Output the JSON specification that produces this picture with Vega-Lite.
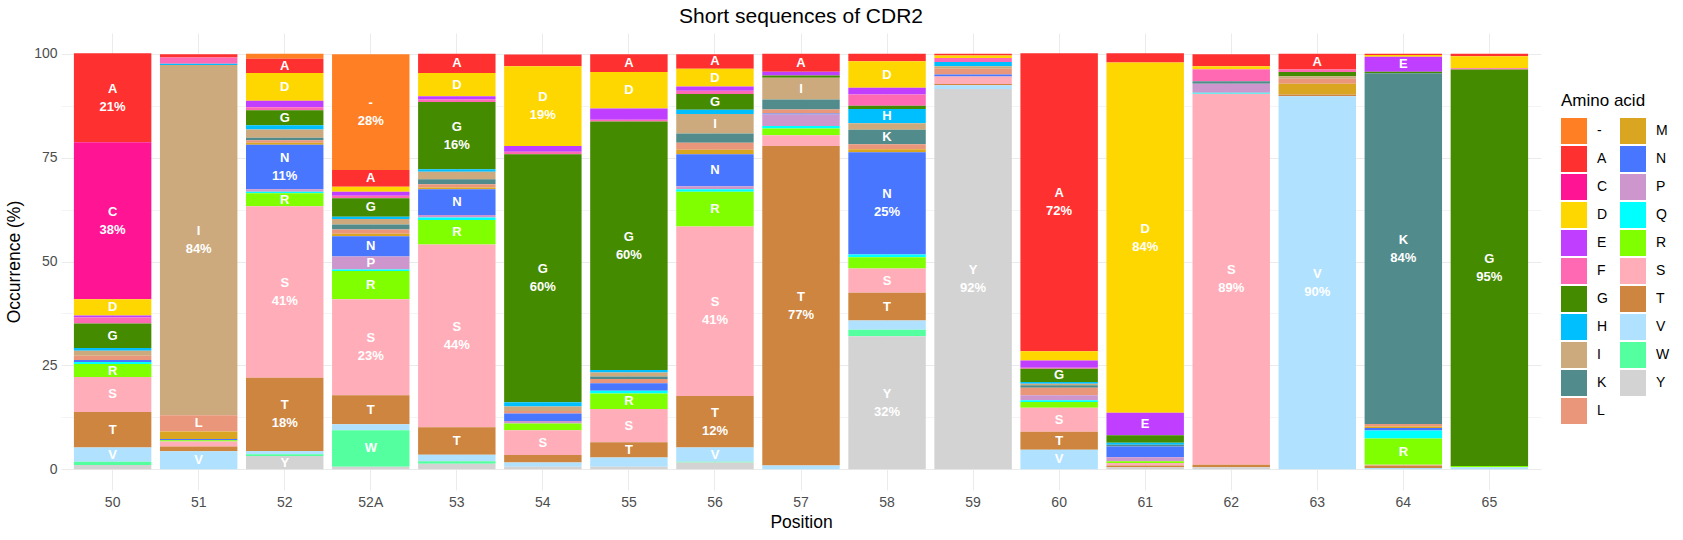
{
 "$schema": "https://vega.github.io/schema/vega-lite/v6.json",
 "width": 1480, "height": 457,
 "autosize": {"type": "none"},
 "padding": {"left": 61, "top": 33, "right": 142, "bottom": 50},
 "background": "white",
 "title": {"text": "Short sequences of CDR2", "fontSize": 21, "font": "Liberation Sans", "fontWeight": "normal", "color": "black", "anchor": "middle", "offset": 6},
 "config": {"view": {"stroke": null}, "font": "Liberation Sans"},
 "data": {"values": [
  {"position":"50","aa":"A","pct":21.4},{"position":"50","aa":"C","pct":37.8},{"position":"50","aa":"D","pct":3.9},{"position":"50","aa":"E","pct":0.5},{"position":"50","aa":"F","pct":1.4},{"position":"50","aa":"G","pct":5.9},{"position":"50","aa":"H","pct":0.7},{"position":"50","aa":"I","pct":1.2},{"position":"50","aa":"L","pct":1.0},{"position":"50","aa":"N","pct":0.5},{"position":"50","aa":"Q","pct":0.5},{"position":"50","aa":"R","pct":3.1},{"position":"50","aa":"S","pct":8.4},{"position":"50","aa":"T","pct":8.6},{"position":"50","aa":"V","pct":3.4},{"position":"50","aa":"W","pct":0.8},{"position":"50","aa":"Y","pct":1.0},
  {"position":"51","aa":"A","pct":0.8},{"position":"51","aa":"F","pct":1.5},{"position":"51","aa":"H","pct":0.3},{"position":"51","aa":"I","pct":84.3},{"position":"51","aa":"L","pct":3.9},{"position":"51","aa":"M","pct":1.8},{"position":"51","aa":"N","pct":0.3},{"position":"51","aa":"R","pct":0.3},{"position":"51","aa":"S","pct":1.2},{"position":"51","aa":"T","pct":1.2},{"position":"51","aa":"V","pct":4.3},
  {"position":"52","aa":"-","pct":1.2},{"position":"52","aa":"A","pct":3.4},{"position":"52","aa":"D","pct":6.7},{"position":"52","aa":"E","pct":1.6},{"position":"52","aa":"F","pct":0.7},{"position":"52","aa":"G","pct":3.6},{"position":"52","aa":"H","pct":1.0},{"position":"52","aa":"I","pct":2.0},{"position":"52","aa":"K","pct":0.6},{"position":"52","aa":"L","pct":0.6},{"position":"52","aa":"M","pct":0.5},{"position":"52","aa":"N","pct":10.7},{"position":"52","aa":"P","pct":0.6},{"position":"52","aa":"Q","pct":0.4},{"position":"52","aa":"R","pct":3.1},{"position":"52","aa":"S","pct":41.3},{"position":"52","aa":"T","pct":17.6},{"position":"52","aa":"V","pct":0.8},{"position":"52","aa":"W","pct":0.4},{"position":"52","aa":"Y","pct":3.2},
  {"position":"52A","aa":"-","pct":27.9},{"position":"52A","aa":"A","pct":4.0},{"position":"52A","aa":"D","pct":1.2},{"position":"52A","aa":"E","pct":1.0},{"position":"52A","aa":"F","pct":0.6},{"position":"52A","aa":"G","pct":4.4},{"position":"52A","aa":"H","pct":0.6},{"position":"52A","aa":"I","pct":1.3},{"position":"52A","aa":"K","pct":1.2},{"position":"52A","aa":"L","pct":1.0},{"position":"52A","aa":"M","pct":0.6},{"position":"52A","aa":"N","pct":4.9},{"position":"52A","aa":"P","pct":3.1},{"position":"52A","aa":"Q","pct":0.4},{"position":"52A","aa":"R","pct":6.8},{"position":"52A","aa":"S","pct":23.1},{"position":"52A","aa":"T","pct":7.0},{"position":"52A","aa":"V","pct":1.4},{"position":"52A","aa":"W","pct":8.8},{"position":"52A","aa":"Y","pct":0.6},
  {"position":"53","aa":"A","pct":4.6},{"position":"53","aa":"D","pct":5.6},{"position":"53","aa":"E","pct":0.8},{"position":"53","aa":"F","pct":0.6},{"position":"53","aa":"G","pct":16.2},{"position":"53","aa":"H","pct":0.6},{"position":"53","aa":"I","pct":1.8},{"position":"53","aa":"K","pct":1.2},{"position":"53","aa":"L","pct":0.8},{"position":"53","aa":"M","pct":0.4},{"position":"53","aa":"N","pct":6.2},{"position":"53","aa":"P","pct":0.6},{"position":"53","aa":"Q","pct":0.6},{"position":"53","aa":"R","pct":5.9},{"position":"53","aa":"S","pct":44.0},{"position":"53","aa":"T","pct":6.6},{"position":"53","aa":"V","pct":1.6},{"position":"53","aa":"W","pct":0.6},{"position":"53","aa":"Y","pct":1.3},
  {"position":"54","aa":"A","pct":2.8},{"position":"54","aa":"D","pct":19.2},{"position":"54","aa":"E","pct":1.4},{"position":"54","aa":"F","pct":0.6},{"position":"54","aa":"G","pct":59.7},{"position":"54","aa":"H","pct":1.0},{"position":"54","aa":"I","pct":1.1},{"position":"54","aa":"L","pct":0.6},{"position":"54","aa":"N","pct":1.8},{"position":"54","aa":"P","pct":0.6},{"position":"54","aa":"R","pct":1.6},{"position":"54","aa":"S","pct":6.0},{"position":"54","aa":"T","pct":1.8},{"position":"54","aa":"V","pct":1.0},{"position":"54","aa":"Y","pct":0.6},
  {"position":"55","aa":"A","pct":4.3},{"position":"55","aa":"D","pct":8.8},{"position":"55","aa":"E","pct":2.7},{"position":"55","aa":"F","pct":0.4},{"position":"55","aa":"G","pct":59.8},{"position":"55","aa":"H","pct":0.6},{"position":"55","aa":"I","pct":1.0},{"position":"55","aa":"K","pct":0.6},{"position":"55","aa":"L","pct":1.0},{"position":"55","aa":"N","pct":1.8},{"position":"55","aa":"Q","pct":0.7},{"position":"55","aa":"R","pct":3.7},{"position":"55","aa":"S","pct":8.0},{"position":"55","aa":"T","pct":3.7},{"position":"55","aa":"V","pct":2.2},{"position":"55","aa":"Y","pct":0.6},
  {"position":"56","aa":"A","pct":3.5},{"position":"56","aa":"D","pct":4.3},{"position":"56","aa":"E","pct":1.0},{"position":"56","aa":"F","pct":0.8},{"position":"56","aa":"G","pct":3.8},{"position":"56","aa":"H","pct":1.0},{"position":"56","aa":"I","pct":4.7},{"position":"56","aa":"K","pct":2.2},{"position":"56","aa":"L","pct":1.7},{"position":"56","aa":"M","pct":1.1},{"position":"56","aa":"N","pct":7.7},{"position":"56","aa":"P","pct":0.7},{"position":"56","aa":"Q","pct":0.6},{"position":"56","aa":"R","pct":8.4},{"position":"56","aa":"S","pct":40.8},{"position":"56","aa":"T","pct":12.4},{"position":"56","aa":"V","pct":3.4},{"position":"56","aa":"W","pct":0.2},{"position":"56","aa":"Y","pct":1.6},
  {"position":"57","aa":"A","pct":4.3},{"position":"57","aa":"E","pct":0.9},{"position":"57","aa":"G","pct":0.6},{"position":"57","aa":"I","pct":5.2},{"position":"57","aa":"K","pct":2.4},{"position":"57","aa":"L","pct":1.0},{"position":"57","aa":"N","pct":0.2},{"position":"57","aa":"P","pct":2.8},{"position":"57","aa":"Q","pct":0.6},{"position":"57","aa":"R","pct":1.6},{"position":"57","aa":"S","pct":2.6},{"position":"57","aa":"T","pct":76.9},{"position":"57","aa":"V","pct":0.9},
  {"position":"58","aa":"A","pct":1.8},{"position":"58","aa":"D","pct":6.4},{"position":"58","aa":"E","pct":1.6},{"position":"58","aa":"F","pct":2.7},{"position":"58","aa":"G","pct":0.8},{"position":"58","aa":"H","pct":3.4},{"position":"58","aa":"I","pct":1.6},{"position":"58","aa":"K","pct":3.5},{"position":"58","aa":"L","pct":1.2},{"position":"58","aa":"M","pct":0.7},{"position":"58","aa":"N","pct":24.6},{"position":"58","aa":"Q","pct":0.7},{"position":"58","aa":"R","pct":2.7},{"position":"58","aa":"S","pct":5.8},{"position":"58","aa":"T","pct":6.7},{"position":"58","aa":"V","pct":2.2},{"position":"58","aa":"W","pct":1.6},{"position":"58","aa":"Y","pct":32.0},
  {"position":"59","aa":"A","pct":0.4},{"position":"59","aa":"D","pct":0.6},{"position":"59","aa":"F","pct":1.0},{"position":"59","aa":"H","pct":1.0},{"position":"59","aa":"I","pct":0.6},{"position":"59","aa":"L","pct":1.4},{"position":"59","aa":"N","pct":0.5},{"position":"59","aa":"S","pct":1.8},{"position":"59","aa":"T","pct":0.3},{"position":"59","aa":"V","pct":0.9},{"position":"59","aa":"Y","pct":91.5},
  {"position":"60","aa":"A","pct":71.7},{"position":"60","aa":"D","pct":2.2},{"position":"60","aa":"E","pct":1.8},{"position":"60","aa":"F","pct":0.2},{"position":"60","aa":"G","pct":3.2},{"position":"60","aa":"H","pct":0.4},{"position":"60","aa":"I","pct":0.4},{"position":"60","aa":"K","pct":0.6},{"position":"60","aa":"L","pct":1.8},{"position":"60","aa":"P","pct":1.2},{"position":"60","aa":"Q","pct":0.4},{"position":"60","aa":"R","pct":1.4},{"position":"60","aa":"S","pct":5.8},{"position":"60","aa":"T","pct":4.3},{"position":"60","aa":"V","pct":4.7},
  {"position":"61","aa":"A","pct":2.2},{"position":"61","aa":"D","pct":84.3},{"position":"61","aa":"E","pct":5.4},{"position":"61","aa":"G","pct":1.8},{"position":"61","aa":"H","pct":0.5},{"position":"61","aa":"K","pct":0.4},{"position":"61","aa":"N","pct":2.6},{"position":"61","aa":"P","pct":1.0},{"position":"61","aa":"R","pct":0.4},{"position":"61","aa":"S","pct":0.6},{"position":"61","aa":"T","pct":0.4},{"position":"61","aa":"Y","pct":0.5},
  {"position":"62","aa":"A","pct":2.9},{"position":"62","aa":"D","pct":0.7},{"position":"62","aa":"F","pct":2.9},{"position":"62","aa":"K","pct":0.6},{"position":"62","aa":"P","pct":2.2},{"position":"62","aa":"Q","pct":0.2},{"position":"62","aa":"S","pct":89.3},{"position":"62","aa":"T","pct":0.6},{"position":"62","aa":"Y","pct":0.5},
  {"position":"63","aa":"A","pct":3.8},{"position":"63","aa":"F","pct":0.6},{"position":"63","aa":"G","pct":1.0},{"position":"63","aa":"I","pct":0.6},{"position":"63","aa":"L","pct":1.2},{"position":"63","aa":"M","pct":2.6},{"position":"63","aa":"T","pct":0.4},{"position":"63","aa":"V","pct":89.8},
  {"position":"64","aa":"A","pct":0.3},{"position":"64","aa":"D","pct":0.4},{"position":"64","aa":"E","pct":3.6},{"position":"64","aa":"G","pct":0.4},{"position":"64","aa":"K","pct":84.4},{"position":"64","aa":"L","pct":0.6},{"position":"64","aa":"M","pct":0.4},{"position":"64","aa":"N","pct":0.6},{"position":"64","aa":"Q","pct":1.9},{"position":"64","aa":"R","pct":6.3},{"position":"64","aa":"S","pct":0.2},{"position":"64","aa":"T","pct":0.6},{"position":"64","aa":"V","pct":0.3},
  {"position":"65","aa":"A","pct":0.6},{"position":"65","aa":"D","pct":2.9},{"position":"65","aa":"F","pct":0.3},{"position":"65","aa":"G","pct":95.4},{"position":"65","aa":"R","pct":0.3},{"position":"65","aa":"V","pct":0.5}
 ]},
 "layer": [
  {
   "mark": {"type": "bar"},
   "encoding": {
    "x": {"field": "position", "type": "nominal", "sort": null,
      "scale": {"paddingInner": 0.1, "paddingOuter": 0.15},
      "axis": {"title": "Position", "labelAngle": 0, "labelFontSize": 14, "labelColor": "#4D4D4D", "titleFontSize": 17.5, "titleFontWeight": "normal", "titleColor": "black", "domain": false, "ticks": false, "grid": true, "gridColor": "#EBEBEB", "bandPosition": 0.5, "labelPadding": 5, "titlePadding": 4}},
    "y": {"field": "pct", "type": "quantitative", "stack": "zero",
      "scale": {"domain": [-5, 105], "nice": false, "zero": false},
      "axis": {"title": "Occurrence (%)", "values": [0, 12.5, 25, 37.5, 50, 62.5, 75, 87.5, 100], "labelExpr": "datum.value % 25 === 0 ? datum.label : ''", "gridColor": {"condition": {"test": "datum.value % 25 !== 0", "value": "#F4F4F4"}, "value": "#EBEBEB"}, "domain": false, "ticks": false, "labelFontSize": 14, "labelColor": "#4D4D4D", "titleFontSize": 17.5, "titleFontWeight": "normal", "titleColor": "black", "labelPadding": 4, "titlePadding": 10}},
    "color": {"field": "aa", "type": "nominal",
      "scale": {"domain": ["-","A","C","D","E","F","G","H","I","K","L","M","N","P","Q","R","S","T","V","W","Y"],
                "range": ["#FF7F24","#FF3030","#FF1493","#FFD700","#BF3EFF","#FF69B4","#458B00","#00BFFF","#CDAA7D","#528B8B","#E9967A","#DAA520","#4876FF","#CD96CD","#00FFFF","#7FFF00","#FFAEB9","#CD853F","#B0E2FF","#54FF9F","#D3D3D3"]},
      "legend": {"title": "Amino acid", "columns": 2, "orient": "none", "legendX": 1500, "legendY": 60, "symbolType": "square", "symbolSize": 676, "symbolStrokeWidth": 0, "symbolOpacity": 1, "labelFontSize": 14, "labelColor": "black", "titleFontSize": 17, "titleFontWeight": "normal", "titleColor": "black", "rowPadding": 2, "columnPadding": 12, "labelOffset": 10, "titlePadding": 8}},
    "order": {"field": "aa", "sort": "descending"}
   }
  },
  {
   "transform": [
    {"stack": "pct", "groupby": ["position"], "sort": [{"field": "aa", "order": "descending"}], "as": ["y0", "y1"]},
    {"calculate": "(datum.y0 + datum.y1) / 2", "as": "ymid"},
    {"filter": "datum.pct >= 3 && datum.pct < 10"}
   ],
   "mark": {"type": "text", "color": "white", "fontWeight": "bold", "fontSize": 13, "align": "center", "baseline": "middle"},
   "encoding": {
    "x": {"field": "position", "type": "nominal", "sort": null},
    "y": {"field": "ymid", "type": "quantitative", "title": "Occurrence (%)"},
    "text": {"field": "aa"}
   }
  },
  {
   "transform": [
    {"stack": "pct", "groupby": ["position"], "sort": [{"field": "aa", "order": "descending"}], "as": ["y0", "y1"]},
    {"calculate": "(datum.y0 + datum.y1) / 2", "as": "ymid"},
    {"filter": "datum.pct >= 10"}
   ],
   "mark": {"type": "text", "color": "white", "fontWeight": "bold", "fontSize": 13, "align": "center", "baseline": "middle", "dy": -9},
   "encoding": {
    "x": {"field": "position", "type": "nominal", "sort": null},
    "y": {"field": "ymid", "type": "quantitative", "title": "Occurrence (%)"},
    "text": {"field": "aa"}
   }
  },
  {
   "transform": [
    {"stack": "pct", "groupby": ["position"], "sort": [{"field": "aa", "order": "descending"}], "as": ["y0", "y1"]},
    {"calculate": "(datum.y0 + datum.y1) / 2", "as": "ymid"},
    {"filter": "datum.pct >= 10"},
    {"calculate": "round(datum.pct) + '%'", "as": "pctlabel"}
   ],
   "mark": {"type": "text", "color": "white", "fontWeight": "bold", "fontSize": 13, "align": "center", "baseline": "middle", "dy": 9},
   "encoding": {
    "x": {"field": "position", "type": "nominal", "sort": null},
    "y": {"field": "ymid", "type": "quantitative", "title": "Occurrence (%)"},
    "text": {"field": "pctlabel"}
   }
  }
 ]
}
